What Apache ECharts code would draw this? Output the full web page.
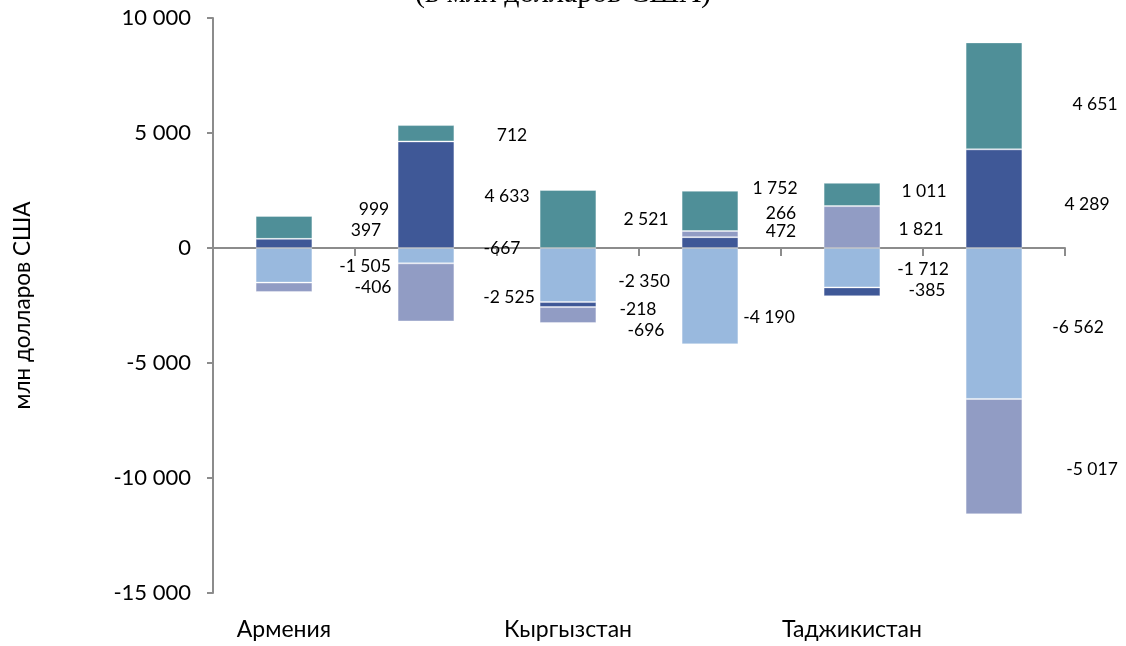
<!DOCTYPE html>
<html>
<head>
<meta charset="utf-8">
<script src="https://cdn.jsdelivr.net/npm/echarts@6/dist/echarts.min.js"></script>
<style>
html,body{margin:0;padding:0;background:#fff;}
#chart{width:1126px;height:646px;}
</style>
</head>
<body>
<div id="chart"></div>
<script>
// ---- data ----
const categories = ['Армения', '', 'Кыргызстан', '', 'Таджикистан', ''];
const seriesLightBlue = [-1505, -667, -2350, -4190, -1712, -6562];
const seriesDarkBlue  = [397, 4633, -218, 472, -385, 4289];
const seriesGrey      = [-406, -2525, -696, 266, 1821, -5017];
const seriesTeal      = [999, 712, 2521, 1752, 1011, 4651];
const yTicks = { min: -15000, max: 10000, interval: 5000 };
const titleText = '(в млн долларов США)';
const yAxisTitle = 'млн долларов США';

// ---- layout of data labels (pixel offsets from segment centre) ----
const offLightBlue = [[81,1],[76,-7],[76,6],[59,21],[71,2],[84,4]];
const offDarkBlue  = [[82,-13],[81,2],[70,5],[71,-11],[75,-1],[93,6]];
const offGrey      = [[89,0],[83,5],[78,15],[71,-21],[69,2],[98,13]];
const offTeal      = [[90,-18],[86,2],[78,0],[65,-23],[72,-3],[101,8]];

const FONT = 'Lato, "Open Sans", sans-serif';
function fmt(v){
  const s = Math.abs(v).toString().replace(/\B(?=(\d{3})+(?!\d))/g, ' ');
  return (v < 0 ? '-' : '') + s;
}
function mk(name, values, offs, color){
  return {
    name: name, type: 'bar', stack: 'total', xAxisIndex: 0,
    barWidth: '40%',
    itemStyle: { color: color, borderColor: 'rgba(255,255,255,0.35)', borderWidth: 1 },
    label: {
      show: true, position: 'inside', color: '#000', fontFamily: FONT, fontSize: 17.5,
      formatter: p => fmt(p.value)
    },
    data: values.map((v, i) => ({ value: v, label: { offset: offs[i] } }))
  };
}

const chart = echarts.init(document.getElementById('chart'));
chart.setOption({
  animation: false,
  backgroundColor: '#fff',
  grid: { left: 213, right: 61, top: 18, bottom: 53, containLabel: false },
  graphic: [{
    type: 'text', left: 'center', top: -21,
    style: { text: titleText, font: '30px "Liberation Serif", "Times New Roman", serif', fill: '#000' }
  }],
  xAxis: [{
    type: 'category', data: categories, position: 'top',
    axisLine: { onZero: true, lineStyle: { color: '#8c8c8c', width: 2 } },
    axisTick: { show: true, inside: true, length: 8, interval: 0, lineStyle: { color: '#8c8c8c', width: 2 } },
    axisLabel: { show: false },
    splitLine: { show: false }
  }, {
    type: 'category', data: categories, position: 'bottom',
    axisLine: { show: false, onZero: false },
    axisTick: { show: false },
    axisLabel: { show: true, interval: 0, margin: 25, color: '#000', fontFamily: FONT, fontSize: 23 },
    splitLine: { show: false }
  }],
  yAxis: {
    type: 'value', min: yTicks.min, max: yTicks.max, interval: yTicks.interval,
    name: yAxisTitle, nameLocation: 'middle', nameGap: 179,
    nameTextStyle: { color: '#000', fontFamily: FONT, fontSize: 22.5 },
    axisLine: { show: true, lineStyle: { color: '#8c8c8c', width: 2 } },
    axisTick: { show: true, length: 6, lineStyle: { color: '#8c8c8c', width: 2 } },
    axisLabel: { color: '#000', fontFamily: FONT, fontSize: 22, margin: 22, formatter: v => fmt(v) },
    splitLine: { show: false }
  },
  series: [
    mk('L', seriesLightBlue, offLightBlue, '#99B9DE'),
    mk('D', seriesDarkBlue, offDarkBlue, '#3F5897'),
    mk('G', seriesGrey, offGrey, '#919CC4'),
    mk('T', seriesTeal, offTeal, '#4F8F98')
  ]
});
</script>
</body>
</html>
